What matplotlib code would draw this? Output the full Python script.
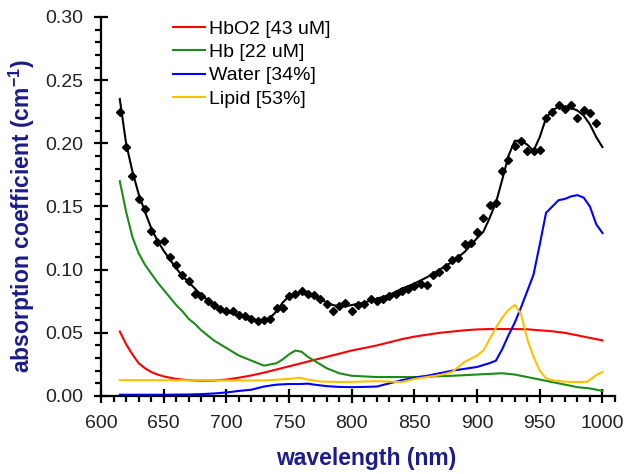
import numpy as np
import matplotlib
matplotlib.use("Agg")
import matplotlib.pyplot as plt
from matplotlib.ticker import MultipleLocator

plt.rcParams['font.family'] = ['Liberation Sans', 'DejaVu Sans']
plt.rcParams['mathtext.fontset'] = 'custom'
plt.rcParams['mathtext.rm'] = 'Liberation Sans'
plt.rcParams['mathtext.bf'] = 'Liberation Sans:bold'

# measured absorption (dots) and fitted total (black line)
meas_nm = [615, 620, 625, 630, 635, 640, 645, 650, 655, 660, 665, 670, 675, 680,
           685, 690, 695, 700, 705, 710, 715, 720, 725, 730, 735, 740, 745, 750,
           755, 760, 765, 770, 775, 780, 785, 790, 795, 800, 805, 810, 815, 820,
           825, 830, 835, 840, 845, 850, 855, 860, 865, 870, 875, 880, 885, 890,
           895, 900, 905, 910, 915, 920, 925, 930, 935, 940, 945, 950, 955, 960,
           965, 970, 975, 980, 985, 990, 995]
meas_mua = [0.225, 0.197, 0.174, 0.156, 0.148, 0.131, 0.122, 0.123, 0.110, 0.104,
            0.096, 0.091, 0.081, 0.079, 0.075, 0.072, 0.069, 0.067, 0.067, 0.064,
            0.063, 0.061, 0.059, 0.060, 0.061, 0.070, 0.070, 0.079, 0.081, 0.083,
            0.081, 0.080, 0.077, 0.073, 0.067, 0.071, 0.074, 0.067, 0.072, 0.073,
            0.077, 0.075, 0.077, 0.079, 0.081, 0.083, 0.085, 0.087, 0.089, 0.088,
            0.096, 0.098, 0.102, 0.108, 0.109, 0.120, 0.121, 0.130, 0.141, 0.151,
            0.153, 0.178, 0.187, 0.198, 0.202, 0.194, 0.194, 0.195, 0.220, 0.225,
            0.230, 0.227, 0.230, 0.220, 0.226, 0.224, 0.216]

fit_nm = [615, 620, 625, 630, 635, 640, 645, 650, 655, 660, 665, 670, 675, 680,
          685, 690, 695, 700, 705, 710, 715, 720, 725, 730, 735, 740, 745, 750,
          755, 760, 765, 770, 775, 780, 785, 790, 795, 800, 810, 820, 830, 840,
          850, 860, 870, 880, 890, 900, 905, 910, 915, 920, 925, 930, 935, 940,
          945, 950, 955, 960, 965, 970, 975, 980, 985, 990, 995, 1000]
fit_mua = [0.235, 0.200, 0.178, 0.160, 0.146, 0.133, 0.123, 0.115, 0.108, 0.101,
           0.095, 0.090, 0.085, 0.080, 0.076, 0.072, 0.069, 0.067, 0.065, 0.064,
           0.063, 0.061, 0.060, 0.060, 0.062, 0.067, 0.074, 0.079, 0.081, 0.082,
           0.081, 0.080, 0.077, 0.074, 0.072, 0.071, 0.071, 0.072, 0.074, 0.077,
           0.080, 0.085, 0.089, 0.094, 0.100, 0.106, 0.114, 0.125, 0.130, 0.141,
           0.153, 0.171, 0.190, 0.202, 0.202, 0.199, 0.194, 0.205, 0.220, 0.226,
           0.229, 0.229, 0.228, 0.226, 0.222, 0.215, 0.205, 0.197]

# chromophore contributions
hbo2_nm = [615, 620, 625, 630, 635, 640, 645, 650, 660, 670, 680, 690, 700, 710,
           720, 730, 740, 750, 760, 770, 780, 790, 800, 810, 820, 830, 840, 850,
           860, 870, 880, 890, 900, 910, 920, 930, 940, 950, 960, 970, 980, 990, 1000]
hbo2_mua = [0.051, 0.041, 0.033, 0.026, 0.022, 0.019, 0.017, 0.0155, 0.0135, 0.0125,
            0.012, 0.0122, 0.013, 0.0145, 0.0163, 0.0185, 0.021, 0.0235, 0.026,
            0.0285, 0.031, 0.0335, 0.036, 0.038, 0.040, 0.0425, 0.045, 0.047,
            0.0485, 0.050, 0.051, 0.052, 0.0527, 0.053, 0.053, 0.053, 0.0528,
            0.052, 0.0512, 0.050, 0.048, 0.046, 0.044]

hb_nm = [615, 620, 625, 630, 635, 640, 645, 650, 655, 660, 665, 670, 675, 680,
         685, 690, 695, 700, 705, 710, 715, 720, 725, 730, 735, 740, 745, 750,
         755, 760, 765, 770, 775, 780, 785, 790, 795, 800, 820, 850, 880, 900,
         920, 930, 940, 950, 960, 970, 980, 990, 1000]
hb_mua = [0.170, 0.146, 0.126, 0.113, 0.104, 0.097, 0.090, 0.084, 0.078, 0.072,
          0.067, 0.061, 0.057, 0.052, 0.048, 0.044, 0.041, 0.038, 0.035, 0.032,
          0.030, 0.028, 0.026, 0.024, 0.025, 0.026, 0.029, 0.033, 0.036, 0.035,
          0.031, 0.028, 0.025, 0.022, 0.020, 0.018, 0.017, 0.016, 0.015, 0.015,
          0.016, 0.017, 0.018, 0.017, 0.015, 0.013, 0.011, 0.009, 0.007, 0.006,
          0.004]

water_nm = [615, 630, 650, 670, 680, 690, 700, 710, 720, 730, 740, 750, 760, 765,
            770, 780, 790, 800, 810, 820, 830, 840, 850, 860, 870, 880, 890, 900,
            910, 915, 920, 925, 930, 935, 940, 945, 950, 955, 960, 965, 970, 975,
            980, 985, 990, 995, 1000]
water_mua = [0.001, 0.001, 0.001, 0.0012, 0.0015, 0.002, 0.0028, 0.004, 0.005,
             0.0075, 0.009, 0.0095, 0.0095, 0.0098, 0.009, 0.0078, 0.0072, 0.007,
             0.0072, 0.0075, 0.010, 0.0125, 0.0145, 0.016, 0.018, 0.020, 0.0215,
             0.023, 0.026, 0.028, 0.037, 0.048, 0.058, 0.070, 0.083, 0.096, 0.120,
             0.145, 0.150, 0.155, 0.156, 0.158, 0.159, 0.157, 0.150, 0.136, 0.129]

lipid_nm = [615, 650, 700, 730, 750, 758, 765, 775, 790, 800, 820, 840, 850, 860,
            870, 880, 890, 900, 905, 910, 915, 920, 925, 930, 935, 940, 945, 950,
            955, 960, 970, 980, 988, 995, 1000]
lipid_mua = [0.0125, 0.0125, 0.0123, 0.0123, 0.0135, 0.0145, 0.013, 0.0115, 0.011,
             0.0112, 0.0118, 0.011, 0.0135, 0.015, 0.0165, 0.019, 0.027, 0.032,
             0.036, 0.045, 0.054, 0.062, 0.068, 0.072, 0.065, 0.045, 0.031, 0.020,
             0.014, 0.0125, 0.0113, 0.011, 0.0113, 0.0165, 0.019]

labels = ['HbO2 [43 uM]', 'Hb [22 uM]', 'Water [34%]', 'Lipid [53%]']
colors = ['#ff0000', '#1a8c1a', '#0000ff', '#ffc000']
navy = '#1c1c8a'

fig = plt.figure(figsize=(6.25, 4.74), dpi=100)
ax = fig.add_axes([101 / 625, 78 / 474, 514 / 625, 379 / 474])

for nm, mua, lab, c in zip([hbo2_nm, hb_nm, water_nm, lipid_nm],
                           [hbo2_mua, hb_mua, water_mua, lipid_mua], labels, colors):
    ax.plot(nm, mua, color=c, lw=1.5, label=lab)

ax.plot(fit_nm, fit_mua, color='black', lw=1.5, zorder=4)
ax.plot(meas_nm, meas_mua, ls='none', marker='D', ms=4.2, color='black', zorder=5)

ax.set_xlim(600, 1010)
ax.set_ylim(0, 0.30)
ax.xaxis.set_minor_locator(MultipleLocator(10))
ax.yaxis.set_minor_locator(MultipleLocator(0.01))
ax.set_xticks(np.arange(600, 1001, 50))
ax.set_yticks(np.arange(0, 0.301, 0.05))
ax.set_yticklabels([f'{v:.2f}' for v in np.arange(0, 0.301, 0.05)])

for s in ['top', 'right']:
    ax.spines[s].set_visible(False)
for s in ['left', 'bottom']:
    ax.spines[s].set_linewidth(1.6)

ax.tick_params(which='major', direction='inout', length=10, width=1.6,
               labelsize=14, labelcolor='#222222')
ax.tick_params(axis='x', which='major', pad=9)
ax.tick_params(axis='y', which='major', pad=8)
ax.tick_params(which='minor', direction='out', length=4, width=1.6)

ax.set_xlabel('wavelength (nm)', fontsize=16.5, fontweight='bold', color=navy)
ax.set_ylabel('absorption coefficient (cm$^{\\mathbf{-1}}$)', fontsize=16.5,
              fontweight='bold', color=navy)
ax.xaxis.set_label_coords(0.516, -0.135)
ax.yaxis.set_label_coords(-0.125, 0.475)

ax.legend(loc='upper left', bbox_to_anchor=(173 / 625, 1 - 20 / 474),
          bbox_transform=fig.transFigure, frameon=False, fontsize=14,
          handlelength=1.65, handletextpad=0.2, labelspacing=0.3, borderpad=0,
          borderaxespad=0)

fig.savefig('out.png', dpi=100)
